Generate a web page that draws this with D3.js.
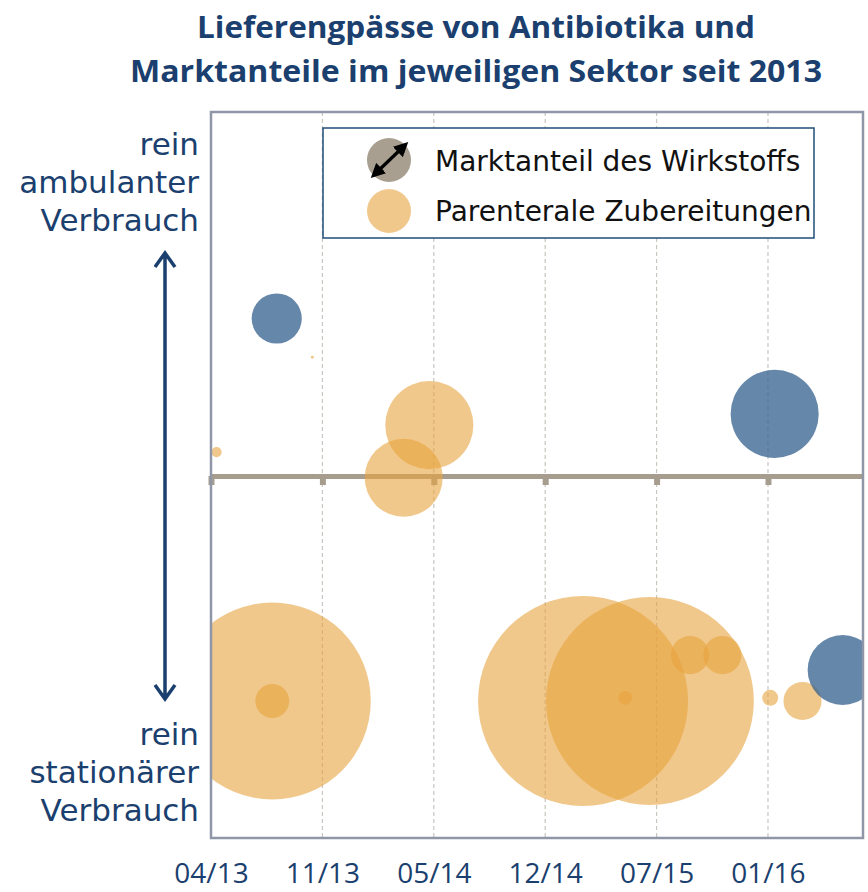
<!DOCTYPE html>
<html>
<head>
<meta charset="utf-8">
<script src="https://cdn.jsdelivr.net/npm/d3@7"></script>
<style>
  body { margin: 0; background: #fff; }
  svg { display: block; }
</style>
</head>
<body>
<div id="chart"></div>
<script>
// Width and height
var chart_width  = 868;
var chart_height = 892;

// tick labels of the time axis (evenly spaced)
var tick_labels = ["04/13", "11/13", "05/14", "12/14", "07/15", "01/16"];

// blue bubbles: x in tick units, y = ambulanter Anteil (%), size = Marktanteil (%)
var blue_x    = [0.59, 5.06, 5.67];
var blue_y    = [85, 63.8, 6.9];
var blue_size = [5.7, 17.6, 11.1];

// orange bubbles: parenterale Zubereitungen
var orange_x    = [0.55, 3.34, 3.94, 1.96, 1.73, 0.91, 0.05, 0.55, 3.72, 4.30, 4.59, 5.02, 5.31];
var orange_y    = [0,    0,    0,    61.3, 49.6, 76.4, 55.3, 0,    0.7,  10.2, 10.2, 0.7,  0];
var orange_size = [88,   100,  98,   17.6, 13.8, 0.02, 0.23, 2.6,  0.44, 3.3,  3.3,  0.58, 3.3];

var margin = {left: 211, top: 112, right: 5, bottom: 54};
var plot_w = chart_width - margin.left - margin.right;
var plot_h = chart_height - margin.top - margin.bottom;

var x = d3.scaleLinear().domain([0, 5.853]).range([margin.left, margin.left + plot_w]);
var y = d3.scaleLinear().domain([0, 100]).range([701, 251]);
var r = d3.scaleSqrt().domain([0, 100]).range([0, 105]);

var navy = "#1b3f6e";

// Create SVG
var svg = d3.select("#chart")
    .append("svg")
    .attr("width", chart_width)
    .attr("height", chart_height);

var defs = svg.append("defs");
defs.append("clipPath")
    .attr("id", "plot-clip")
    .attr("clipPathUnits", "userSpaceOnUse")
    .append("rect")
    .attr("x", margin.left).attr("y", margin.top)
    .attr("width", plot_w).attr("height", plot_h);

defs.append("marker")
    .attr("id", "head")
    .attr("viewBox", "0 0 10 10")
    .attr("refX", 4).attr("refY", 5)
    .attr("markerWidth", 4.5).attr("markerHeight", 4.5)
    .attr("orient", "auto-start-reverse")
    .append("path")
    .attr("d", "M0,0 L10,5 L0,10 z")
    .attr("fill", "#000");

// title
var title = svg.append("g")
    .attr("font-family", "'Liberation Sans Narrow', 'Open Sans', sans-serif")
    .attr("font-weight", 700)
    .attr("font-size", 31)
    .attr("fill", navy)
    .attr("text-anchor", "middle");
title.append("text").attr("x", 476).attr("y", 38)
    .attr("textLength", 558).attr("lengthAdjust", "spacingAndGlyphs")
    .text("Lieferengpässe von Antibiotika und");
title.append("text").attr("x", 476).attr("y", 82)
    .attr("textLength", 692).attr("lengthAdjust", "spacingAndGlyphs")
    .text("Marktanteile im jeweiligen Sektor seit 2013");

// dashed gridlines
svg.append("g")
    .selectAll("line")
    .data(d3.range(1, tick_labels.length))
    .enter()
    .append("line")
    .attr("x1", function(d){ return x(d); })
    .attr("x2", function(d){ return x(d); })
    .attr("y1", margin.top)
    .attr("y2", margin.top + plot_h)
    .attr("stroke", "#c9c5bf")
    .attr("stroke-width", 1.2)
    .attr("stroke-dasharray", "4,3");

// middle line with ticks
var mid_axis = d3.axisBottom(x)
    .tickValues(d3.range(tick_labels.length))
    .tickSize(9)
    .tickSizeOuter(0)
    .tickFormat("");
var mid = svg.append("g")
    .attr("transform", "translate(0," + y(50) + ")")
    .call(mid_axis);
mid.select(".domain").attr("stroke", "#a79d8f").attr("stroke-width", 5);
mid.selectAll(".tick line").attr("stroke", "#a79d8f").attr("stroke-width", 6);

// bubbles, clipped to the plot frame
var bubbles = svg.append("g").attr("clip-path", "url(#plot-clip)");

bubbles.selectAll("circle.orange")
    .data(d3.range(orange_x.length))
    .enter()
    .append("circle")
    .attr("class", "orange")
    .attr("cx", function(i){ return x(orange_x[i]); })
    .attr("cy", function(i){ return y(orange_y[i]); })
    .attr("r", function(i){ return r(orange_size[i]); })
    .attr("fill", "#e8a33d")
    .attr("fill-opacity", 0.6);

bubbles.selectAll("circle.blue")
    .data(d3.range(blue_x.length))
    .enter()
    .append("circle")
    .attr("class", "blue")
    .attr("cx", function(i){ return x(blue_x[i]); })
    .attr("cy", function(i){ return y(blue_y[i]); })
    .attr("r", function(i){ return r(blue_size[i]); })
    .attr("fill", "#3a6591")
    .attr("fill-opacity", 0.78);

// frame
svg.append("rect")
    .attr("x", margin.left).attr("y", margin.top)
    .attr("width", plot_w).attr("height", plot_h)
    .attr("fill", "none")
    .attr("stroke", "#8f96a8")
    .attr("stroke-width", 2.5);

// bottom tick labels
var bottom_axis = d3.axisBottom(x)
    .tickValues(d3.range(tick_labels.length))
    .tickSize(0)
    .tickFormat(function(d){ return tick_labels[d]; });
var bottom = svg.append("g")
    .attr("transform", "translate(0," + (margin.top + plot_h) + ")")
    .call(bottom_axis);
bottom.select(".domain").remove();
bottom.selectAll("text")
    .attr("y", 45)
    .attr("dy", 0)
    .attr("fill", navy)
    .attr("font-family", "'Open Sans', sans-serif")
    .attr("font-size", 28);

// y side labels
var side = svg.append("g")
    .attr("font-family", "'DejaVu Sans', sans-serif")
    .attr("font-size", 31)
    .attr("fill", navy)
    .attr("text-anchor", "end");
[["rein", 155], ["ambulanter", 193], ["Verbrauch", 231],
 ["rein", 745], ["stationärer", 783], ["Verbrauch", 821]].forEach(function(t){
    side.append("text").attr("x", 199).attr("y", t[1]).text(t[0]);
});

// double arrow on the left
var ax = 165, top_y = y(100) + 2, bot_y = y(0) - 2;
svg.append("path")
    .attr("d", "M" + ax + "," + top_y + "V" + bot_y +
               "M" + (ax - 10) + "," + (top_y + 14) + "L" + ax + "," + top_y + "L" + (ax + 10) + "," + (top_y + 14) +
               "M" + (ax - 10) + "," + (bot_y - 14) + "L" + ax + "," + bot_y + "L" + (ax + 10) + "," + (bot_y - 14))
    .attr("fill", "none")
    .attr("stroke", navy)
    .attr("stroke-width", 3.5);

// legend
var legend = svg.append("g");
legend.append("rect")
    .attr("x", 323).attr("y", 128)
    .attr("width", 491).attr("height", 110)
    .attr("fill", "#fff")
    .attr("stroke", "#1f4e79")
    .attr("stroke-width", 1.5);
legend.append("circle").attr("cx", 389).attr("cy", 160).attr("r", 22).attr("fill", "#a89f91");
legend.append("line")
    .attr("x1", 377).attr("y1", 172).attr("x2", 402).attr("y2", 148)
    .attr("stroke", "#000").attr("stroke-width", 3.2)
    .attr("marker-start", "url(#head)").attr("marker-end", "url(#head)");
legend.append("circle").attr("cx", 389).attr("cy", 211).attr("r", 22)
    .attr("fill", "#e8a33d").attr("fill-opacity", 0.6);
legend.selectAll("text.leg")
    .data(["Marktanteil des Wirkstoffs", "Parenterale Zubereitungen"])
    .enter()
    .append("text")
    .attr("class", "leg")
    .attr("x", 435)
    .attr("y", function(d, i){ return 171 + i * 50; })
    .attr("font-family", "'DejaVu Sans', sans-serif")
    .attr("font-size", 28)
    .attr("fill", "#111")
    .text(function(d){ return d; });
</script>
</body>
</html>
